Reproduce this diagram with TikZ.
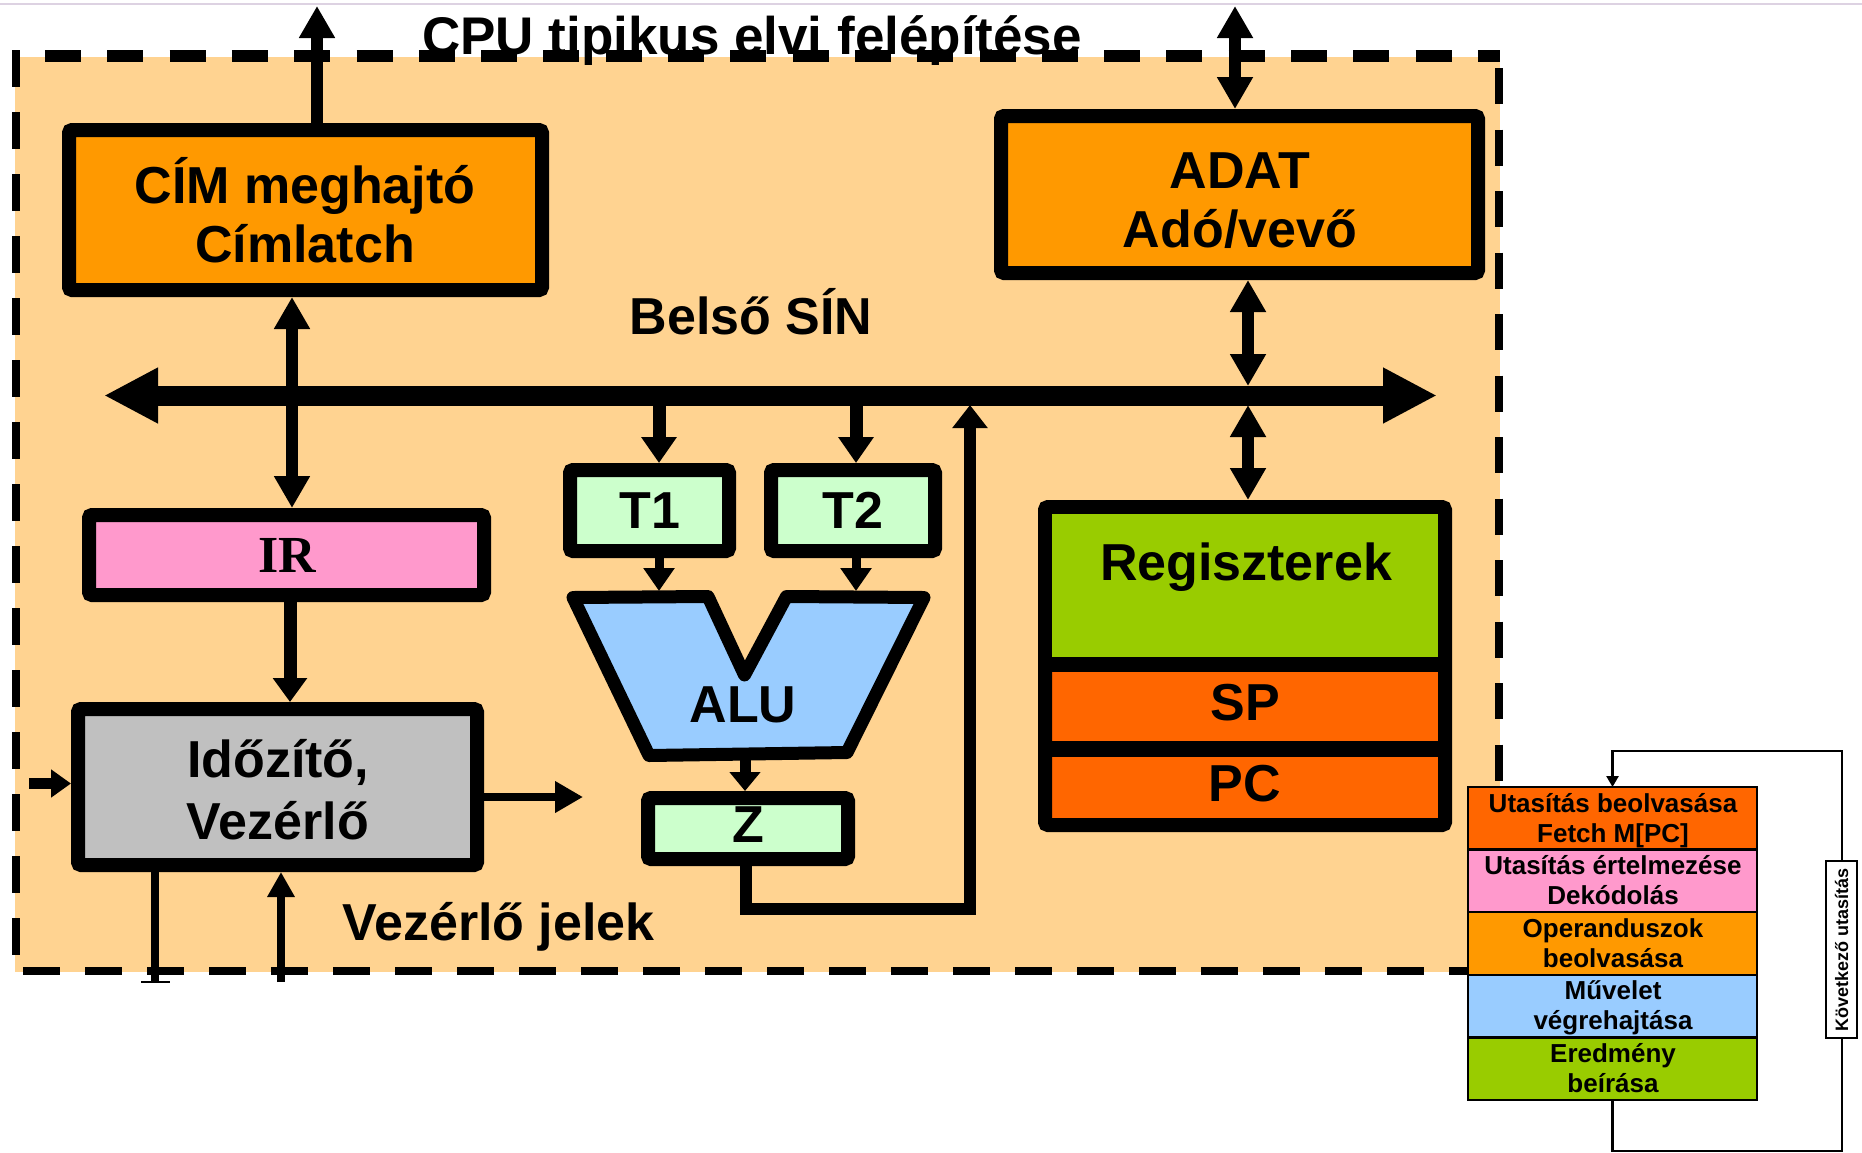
\documentclass[tikz,border=0pt]{standalone}
\usepackage{fontspec}
\setmainfont{Liberation Sans}
\newfontfamily\irfont{Liberation Serif}
\usetikzlibrary{arrows.meta}

\definecolor{cpubg}{HTML}{FFD391}
\definecolor{latch}{HTML}{FF9900}
\definecolor{irpink}{HTML}{FF99CC}
\definecolor{ctrlgray}{HTML}{C0C0C0}
\definecolor{tmpgreen}{HTML}{CCFFCC}
\definecolor{alublue}{HTML}{99CCFF}
\definecolor{reggreen}{HTML}{99CC00}
\definecolor{regorange}{HTML}{FF6600}
\definecolor{topline}{HTML}{DDD2E2}

\begin{document}
\begin{tikzpicture}[x=1pt,y=-1pt,
  blk/.style={draw=black, line width=14pt, rounded corners=3pt, outer sep=7pt, inner sep=0pt},
  big/.style={anchor=base, inner sep=0pt, font=\fontsize{52}{60}\selectfont\bfseries},
  small/.style={anchor=base, inner sep=0pt, font=\fontsize{26}{30}\selectfont\bfseries},
  stk/.style={draw=black, line width=2.5pt, minimum width=289pt, minimum height=62.6pt, inner sep=0pt, outer sep=0pt},
  border/.style={line width=8pt, dash pattern=on 37pt off 25pt},
  conn/.style={line width=12pt},
  headA/.style={-{Triangle[length=32pt,width=34pt]}},
  headAA/.style={{Triangle[length=32pt,width=34pt]}-{Triangle[length=32pt,width=34pt]}},
]
\useasboundingbox (0,0) rectangle (1862,1152);
\fill[white] (0,0) rectangle (1862,1152);
\draw[topline, line width=2pt] (0,4) -- (1862,4);

% CPU area
\fill[cpubg] (15,57) rectangle (1500,972);
\node[big, font=\fontsize{53}{60}\selectfont\bfseries] (title) at (752,54) {CPU tipikus elvi felépítése};
\draw[border, line width=12pt, dash pattern=on 36pt off 26.3pt] (45,56) -- (1500,56);
\draw[border] (15.5,50) -- (15.5,972);
\draw[border] (23,971) -- (1468,971);
\draw[border, dash pattern=on 36pt off 25.5pt] (1499,68) -- (1499,787);

% boxes
\node[blk, fill=latch, minimum width=473pt, minimum height=160pt] (cim) at (305.5,210) {};
\node[blk, fill=latch, minimum width=477pt, minimum height=157pt] (adat) at (1239.5,194.5) {};
\node[blk, fill=irpink, minimum width=395pt, minimum height=80pt] (ir) at (286.5,555) {};
\node[blk, fill=tmpgreen, minimum width=159pt, minimum height=81pt] (t1) at (649.5,510.5) {};
\node[blk, fill=tmpgreen, minimum width=164pt, minimum height=81pt] (t2) at (853,510.5) {};
\node[blk, fill=tmpgreen, minimum width=200pt, minimum height=61pt] (z) at (748,828.5) {};
\node[blk, fill=ctrlgray, minimum width=399pt, minimum height=156pt] (ctrl) at (277.5,787) {};
\node[blk, fill=regorange, minimum width=400pt, minimum height=318pt] (regs) at (1245,666) {};
\fill[reggreen] (1052,514) rectangle (1438,657);
\draw[line width=15pt] (1045,664.5) -- (1445,664.5);
\draw[line width=16pt] (1045,749) -- (1445,749);

% ALU
\draw[line width=13pt, fill=alublue, line join=round]
  (573,597.5) coordinate (aluTL) -- (708,596.5) -- (744.5,675) coordinate (aluV)
  -- (786.5,596.5) -- (924,597.5) coordinate (aluTR) -- (847,752.5) coordinate (aluBR)
  -- (649,755.5) coordinate (aluBL) -- cycle;
\coordinate (aluTop) at (0,591);
\coordinate (aluOut) at (745,759);

% internal bus
\coordinate (busL) at (104,395.5);
\coordinate (busR) at (1437,395.5);
\draw[line width=20pt, {Triangle[length=54pt,width=52pt]}-{Triangle[length=54pt,width=52pt]}] (busL) -- (busR);

% free ends of connectors
\coordinate (addrOut) at (317,6);
\coordinate (dataOut) at (1235,6);
\coordinate (irx) at (292,0);
\coordinate (adx) at (1248,386);
\coordinate (rgx) at (1248,405);
\coordinate (t1in) at (659,405);
\coordinate (t2in) at (856,405);
\coordinate (ctlx) at (290,0);
\coordinate (zx) at (746,909);
\coordinate (loopR) at (970,405);
\coordinate (ctrlOut) at (583,797);
\coordinate (ctrlIn) at (29,783.5);
\coordinate (sigOut) at (155,982);
\coordinate (sigIn) at (281,982);

% connectors
\draw[conn, headA] (cim.north -| addrOut) -- (addrOut);
\draw[conn, headAA] (adat.north -| dataOut) -- (dataOut);
\draw[conn, headAA] (cim.south -| irx) -- (ir.north -| irx);
\draw[conn, headAA] (adat.south -| adx) -- (adx);
\draw[conn, headAA] (rgx) -- (regs.north -| rgx);
\draw[line width=13pt, -{Triangle[length=26pt,width=34pt]}] (t1in) -- (t1.north -| t1in);
\draw[line width=13pt, -{Triangle[length=26pt,width=34pt]}] (t2in) -- (t2.north -| t2in);
\draw[line width=9pt, -{Triangle[length=23pt,width=30pt]}] (t1.south -| t1in) -- (aluTop -| t1in);
\draw[line width=9pt, -{Triangle[length=23pt,width=30pt]}] (t2.south -| t2in) -- (aluTop -| t2in);
\draw[line width=11pt, -{Triangle[length=19pt,width=30pt]}] (aluOut) -- (z.north -| aluOut);
\draw[line width=12pt, -{Triangle[length=23pt,width=34pt]}] (z.south -| zx) -- (zx) -| (loopR);
\draw[line width=13pt, -{Triangle[length=24pt,width=33pt]}] (ir.south -| ctlx) -- (ctrl.north -| ctlx);
\draw[line width=8pt, -{Triangle[length=28pt,width=30pt]}] (ctrl.east |- ctrlOut) -- (ctrlOut);
\draw[line width=11pt, -{Triangle[length=20pt,width=27pt]}] (ctrlIn) -- (ctrl.west |- ctrlIn);
\draw[line width=8.5pt] (ctrl.south -| sigOut) -- (sigOut);
\draw[line width=2pt] ([xshift=-14pt]sigOut) -- ([xshift=15pt]sigOut);
\draw[line width=8pt, -{Triangle[length=25pt,width=26pt]}] (sigIn) -- (ctrl.south -| sigIn);

% labels
\node[big] (cimA) at (305,203) {CÍM meghajtó};
\node[big] (cimB) at (305,262) {Címlatch};
\node[big] (adatA) at (1240,188) {ADAT};
\node[big] (adatB) at (1240,247) {Adó/vevő};
\node[big] (buslbl) at (751,334) {Belső SÍN};
\node[big, font=\fontsize{52}{60}\selectfont\irfont\bfseries] (irlbl) at (287,572) {IR};
\node[big] (t1lbl) at (650,528) {T1};
\node[big] (t2lbl) at (853,528) {T2};
\node[big] (alu) at (743,722) {ALU};
\node[big] (zlbl) at (748,842) {Z};
\node[big] (ctrlA) at (278,777) {Időzítő,};
\node[big] (ctrlB) at (278,839) {Vezérlő};
\node[big] (sigs) at (498.5,940) {Vezérlő jelek};
\node[big] (reglbl) at (1246,580) {Regiszterek};
\node[big] (sp) at (1245,720) {SP};
\node[big] (pc) at (1245,801) {PC};

% instruction cycle
\node[stk, fill=regorange] (s1) at (1612.5,818.3) {};
\node[stk, fill=irpink] (s2) at (1612.5,880.9) {};
\node[stk, fill=latch] (s3) at (1612.5,943.5) {};
\node[stk, fill=alublue] (s4) at (1612.5,1006.1) {};
\node[stk, fill=reggreen] (s5) at (1612.5,1068.7) {};
\node[small] (s1a) at (1613,812) {Utasítás beolvasása};
\node[small] (s1b) at (1613,842) {Fetch M[PC]};
\node[small] (s2a) at (1613,874.6) {Utasítás értelmezése};
\node[small] (s2b) at (1613,904.6) {Dekódolás};
\node[small] (s3a) at (1613,937.2) {Operanduszok};
\node[small] (s3b) at (1613,967.2) {beolvasása};
\node[small] (s4a) at (1613,999.8) {Művelet};
\node[small] (s4b) at (1613,1029.8) {végrehajtása};
\node[small] (s5a) at (1613,1062.4) {Eredmény};
\node[small] (s5b) at (1613,1092.4) {beírása};

\coordinate (loopB) at (0,1151);
\coordinate (loopT) at (1842,751);
\draw[line width=2.5pt, -{Triangle[length=11pt,width=12pt]}]
  (s5.south) -- (s5.south |- loopB) -| (loopT) -| (s1.north);
\node[draw=black, fill=white, line width=2pt, rotate=90, minimum width=177pt, minimum height=31pt,
  inner sep=0pt, font=\fontsize{18}{20}\selectfont\bfseries] (next) at (1841.5,949.5) {Következő utasítás};
\end{tikzpicture}
\end{document}
